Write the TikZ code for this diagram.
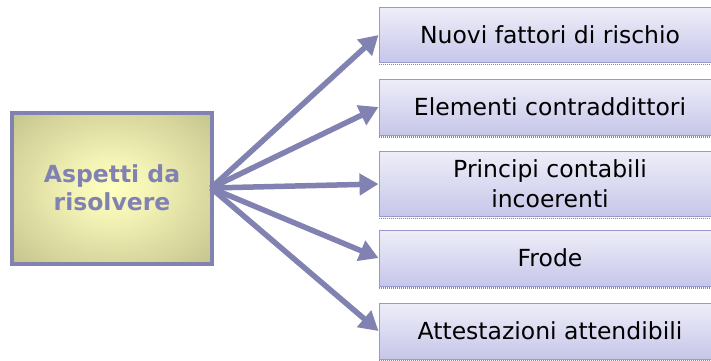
\documentclass[tikz,border=0pt]{standalone}
\usepackage{fontspec}
\setmainfont{DejaVu Sans}
\usetikzlibrary{arrows.meta}
\definecolor{linkc}{HTML}{8282B2}
\definecolor{boxline}{HTML}{9A9ACA}
\definecolor{boxtop}{HTML}{EEEEF8}
\definecolor{boxbot}{HTML}{C6C6EA}
\definecolor{srcin}{HTML}{FFFFC0}
\definecolor{srcout}{HTML}{9A9A6A}
\pgfdeclareradialshading{srcglow}{\pgfpoint{0bp}{0bp}}{%
  color(0bp)=(srcin);
  color(10bp)=(srcin!88!srcout);
  color(28bp)=(srcin!55!srcout);
  color(45bp)=(srcin!22!srcout);
  color(62bp)=(srcout);
  color(100bp)=(srcout)}
\tikzset{
  itembox/.style={draw=boxline, line width=1pt, top color=boxtop, bottom color=boxbot,
    minimum width=342pt, inner sep=0pt, align=center, font=\fontsize{23.5}{30}\selectfont,
    text=black},
  srcbox/.style={draw=linkc, line width=4pt, shading=srcglow,
    minimum width=200pt, minimum height=151pt, inner sep=0pt, align=center,
    font=\bfseries\fontsize{23.5}{28}\selectfont, text=linkc},
  link/.style={draw=linkc, line width=5.5pt, -{Triangle[length=19pt,width=21pt]}},
  shadowline/.style={draw=black!45, line width=1.5pt, dash pattern=on 1pt off 1pt}
}
\begin{document}
\begin{tikzpicture}[x=1pt,y=-1pt]
  \useasboundingbox (0,0) rectangle (711,360);
  \fill[white] (0,0) rectangle (711,360);

  % central box
  \node[srcbox] (src) at (112,188) {Aspetti da\\risolvere};

  % item boxes with their bottom shadow (they run on past the right edge)
  \foreach \n/\y/\h/\t in {b1/35/55/{Nuovi fattori di rischio},
                           b2/107/56/{Elementi contraddittori},
                           b3/184/65/{Principi contabili\\incoerenti},
                           b4/258/56/{Frode},
                           b5/331/56/{Attestazioni attendibili}}{
    \node[itembox, minimum height=\h pt] (\n) at (550,\y) {\t};
    \draw[shadowline] ([yshift=-1.5pt]\n.south west) -- ([yshift=-1.5pt]\n.south east);
  }

  % connectors
  \coordinate (hub) at ([xshift=-3pt]src.east);
  \foreach \n in {b1,b2,b3,b4,b5}
    \draw[link] (hub) -- (\n.west);
\end{tikzpicture}
\end{document}
